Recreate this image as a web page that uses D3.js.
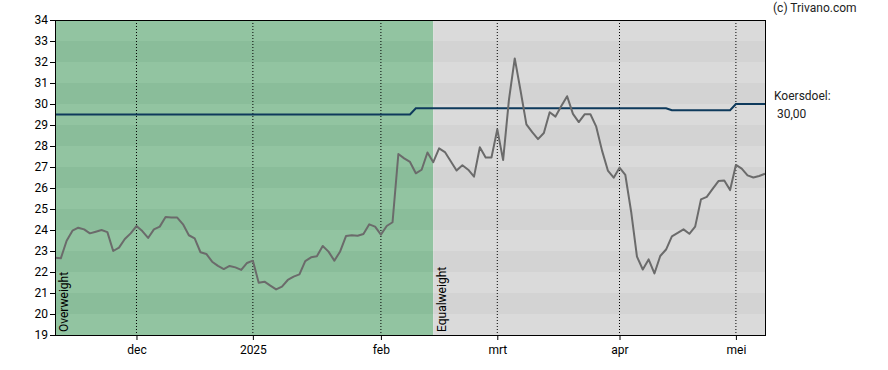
<!DOCTYPE html>
<html>
<head>
<meta charset="utf-8">
<script src="https://cdn.jsdelivr.net/npm/d3@7"></script>
<style>
  body { margin: 0; background: #fff; }
  svg text { font-family: Roboto, "Liberation Sans", sans-serif; font-size: 12px; }
</style>
</head>
<body>
<script>
// Slotkoersen per handelsdag (index 0 = half november)
const prices = [
    22.68, 22.65, 23.49, 23.97, 24.11, 24.03, 23.84, 23.92, 24.00, 23.90,
    23.00, 23.16, 23.57, 23.84, 24.19, 23.95, 23.62, 24.03, 24.16, 24.62,
    24.59, 24.59, 24.27, 23.75, 23.60, 22.94, 22.86, 22.49, 22.29, 22.14,
    22.29, 22.22, 22.10, 22.43, 22.54, 21.49, 21.54, 21.35, 21.17, 21.30,
    21.62, 21.78, 21.89, 22.52, 22.70, 22.75, 23.24, 22.97, 22.54, 22.98,
    23.71, 23.75, 23.73, 23.81, 24.27, 24.16, 23.78, 24.19, 24.37, 27.62,
    27.41, 27.24, 26.70, 26.87, 27.69, 27.23, 27.89, 27.71, 27.27, 26.83,
    27.08, 26.87, 26.54, 27.94, 27.45, 27.45, 28.79, 27.33, 30.20, 32.17,
    30.63, 29.03, 28.66, 28.33, 28.62, 29.61, 29.40, 29.90, 30.37, 29.53,
    29.14, 29.51, 29.51, 28.92, 27.78, 26.83, 26.49, 26.97, 26.62, 24.87,
    22.73, 22.12, 22.60, 21.93, 22.76, 23.07, 23.70, 23.86, 24.03, 23.82,
    24.16, 25.46, 25.58, 25.96, 26.33, 26.36, 25.90, 27.10, 26.92, 26.60,
    26.50, 26.57, 26.68
];

// Koersdoel: breekpunten (handelsdag-index, waarde)
const targetIdx = [0, 61, 62, 105, 106, 116, 117, 122];
const targetVal = [29.5, 29.5, 29.8, 29.8, 29.7, 29.7, 30.0, 30.0];

// Maand-ticks op de x-as
const tickIdx = [14, 34, 56, 76, 97, 117];
const tickLabels = ['dec', '2025', 'feb', 'mrt', 'apr', 'mei'];

// Advies-zones
const zoneStart = [0, 65];
const zoneEnd = [65, 122];
const zoneLabels = ['Overweight', 'Equalweight'];

const yTicks = d3.range(19, 35, 1);

const width = 888;
const height = 370;
const margin = { top: 20, right: 123, bottom: 35, left: 55 };
const plotW = width - margin.left - margin.right;
const plotH = height - margin.top - margin.bottom;

const svg = d3.select('body').append('svg')
    .attr('width', width)
    .attr('height', height);

const g = svg.append('g')
    .attr('transform', `translate(${margin.left},${margin.top})`);

const x = d3.scaleLinear()
    .domain([0, prices.length - 1])
    .range([0, plotW]);

const y = d3.scaleLinear()
    .domain([19, 34])
    .range([plotH, 0]);

// zones met afwisselende banden
const zoneColors = [['#92c4a1', '#8abd9a'], ['#dadada', '#d3d3d3']];
zoneStart.forEach((s, zi) => {
    const bands = d3.range(19, 34);
    g.append('g').selectAll('rect')
        .data(bands)
        .enter()
        .append('rect')
        .attr('x', x(s))
        .attr('width', x(zoneEnd[zi]) - x(s))
        .attr('y', d => y(d + 1))
        .attr('height', d => y(d) - y(d + 1))
        .attr('fill', d => d % 2 === 1 ? zoneColors[zi][0] : zoneColors[zi][1]);
});

// gestippelde verticale rasterlijnen
g.append('g').selectAll('line')
    .data(tickIdx)
    .enter()
    .append('line')
    .attr('x1', d => x(d))
    .attr('x2', d => x(d))
    .attr('y1', 0)
    .attr('y2', plotH)
    .attr('stroke', '#000')
    .attr('stroke-width', 1)
    .attr('stroke-dasharray', '1,2');

// koersdoel lijn
const targetData = targetIdx.map((d, i) => ({ i: d, v: targetVal[i] }));
g.append('path')
    .datum(targetData)
    .attr('fill', 'none')
    .attr('stroke', '#0e3a5c')
    .attr('stroke-width', 2)
    .attr('d', d3.line().x(d => x(d.i)).y(d => y(d.v)));

// koerslijn
g.append('path')
    .datum(prices)
    .attr('fill', 'none')
    .attr('stroke', '#6b6b6b')
    .attr('stroke-width', 2)
    .attr('stroke-linejoin', 'round')
    .attr('d', d3.line().x((d, i) => x(i)).y(d => y(d)));

// zone labels (verticaal)
zoneStart.forEach((s, zi) => {
    g.append('text')
        .attr('transform', `translate(${x(s) + 13},${plotH - 3}) rotate(-90)`)
        .attr('fill', '#000')
        .text(zoneLabels[zi]);
});

// kader
g.append('rect')
    .attr('x', 0.5)
    .attr('y', 0.5)
    .attr('width', plotW)
    .attr('height', plotH)
    .attr('fill', 'none')
    .attr('stroke', '#000')
    .attr('stroke-width', 1);

// y-as
const yAxis = g.append('g')
    .call(d3.axisLeft(y).tickValues(yTicks).tickSize(5).tickPadding(2).tickFormat(d3.format('d')));
yAxis.select('.domain').remove();
yAxis.selectAll('text').attr('fill', '#000').style('font-size', '12px');

// x-as
const xAxis = g.append('g')
    .attr('transform', `translate(0,${plotH})`)
    .call(d3.axisBottom(x).tickValues(tickIdx).tickSize(5).tickPadding(5)
        .tickFormat((d, i) => tickLabels[i]));
xAxis.select('.domain').remove();
xAxis.selectAll('text').attr('fill', '#000').style('font-size', '12px');

// teksten rechts
svg.append('text')
    .attr('x', 773)
    .attr('y', 12)
    .attr('fill', '#222')
    .text('(c) Trivano.com');

svg.append('text')
    .attr('x', 774)
    .attr('y', 100)
    .attr('fill', '#222')
    .text('Koersdoel:');

svg.append('text')
    .attr('x', 777)
    .attr('y', 118)
    .attr('fill', '#222')
    .text(d3.format('.2f')(targetVal[targetVal.length - 1]).replace('.', ','));
</script>
</body>
</html>
